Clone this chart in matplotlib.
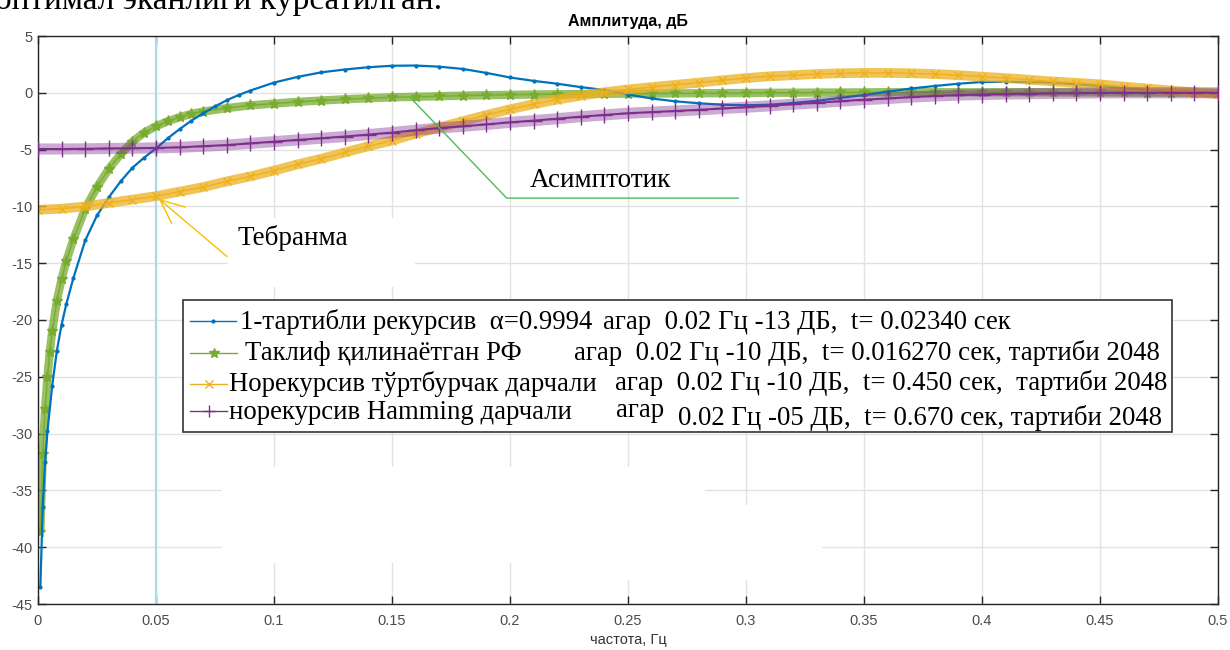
import matplotlib
matplotlib.use('Agg')
import matplotlib.pyplot as plt
from matplotlib.patches import Rectangle
from matplotlib.lines import Line2D

plt.rcParams['font.family'] = ['Liberation Sans', 'DejaVu Sans']
plt.rcParams['axes.unicode_minus'] = False

SERIF = ['Liberation Serif', 'DejaVu Serif']

# 1-тартибли рекурсив (blue)
f_rec = [0.001, 0.002, 0.003, 0.004, 0.006, 0.008, 0.010, 0.012, 0.015,
         0.020, 0.025, 0.030, 0.035, 0.040, 0.045, 0.050, 0.055, 0.060, 0.065,
         0.070, 0.075, 0.080, 0.085, 0.090,
         0.10, 0.11, 0.12, 0.13, 0.14, 0.15, 0.16, 0.17, 0.18, 0.19, 0.20,
         0.21, 0.22, 0.23, 0.24, 0.25, 0.26, 0.27, 0.28, 0.29, 0.30,
         0.31, 0.32, 0.33, 0.34, 0.35, 0.36, 0.37, 0.38, 0.39, 0.40,
         0.41, 0.42, 0.43, 0.44, 0.45, 0.46, 0.47, 0.48, 0.49, 0.50]
a_rec = [-43.5, -36.5, -32.5, -29.8, -25.8, -22.7, -20.4, -18.6, -16.3,
         -13.0, -10.8, -9.2, -7.8, -6.6, -5.7, -4.9, -4.0, -3.2, -2.45,
         -1.8, -1.2, -0.65, -0.2, 0.2,
         0.9, 1.4, 1.8, 2.05, 2.25, 2.38, 2.4, 2.3, 2.1, 1.75, 1.35,
         1.05, 0.8, 0.5, 0.25, -0.15, -0.5, -0.75, -0.92, -1.05, -1.1,
         -1.05, -0.9, -0.7, -0.45, -0.2, 0.1, 0.38, 0.6, 0.8, 0.95,
         0.97, 0.95, 0.88, 0.75, 0.6, 0.45, 0.3, 0.15, 0.05, 0.0]

# Таклиф қилинаётган РФ (green)
f_rf = [0.001, 0.002, 0.003, 0.004, 0.005, 0.006, 0.008, 0.010, 0.012, 0.015,
        0.020, 0.025, 0.030, 0.035, 0.040, 0.045, 0.050, 0.055, 0.060, 0.065,
        0.070, 0.080, 0.090,
        0.10, 0.11, 0.12, 0.13, 0.14, 0.15, 0.16, 0.17, 0.18, 0.19, 0.20,
        0.21, 0.22, 0.23, 0.24, 0.25, 0.26, 0.27, 0.28, 0.29, 0.30,
        0.31, 0.32, 0.33, 0.34, 0.35, 0.36, 0.37, 0.38, 0.39, 0.40,
        0.41, 0.42, 0.43, 0.44, 0.45, 0.46, 0.47, 0.48, 0.49, 0.50]
a_rf = [-38.7, -31.8, -27.8, -25.0, -22.8, -21.0, -18.3, -16.4, -14.8, -12.9,
        -10.2, -8.3, -6.7, -5.4, -4.3, -3.5, -2.95, -2.5, -2.15, -1.85,
        -1.65, -1.35, -1.1,
        -0.95, -0.8, -0.68, -0.57, -0.48, -0.4, -0.35, -0.3, -0.25, -0.21, -0.18,
        -0.15, -0.13, -0.11, -0.09, -0.07, -0.06, -0.05, -0.04, -0.03, -0.02,
        0.0, 0.01, 0.02, 0.03, 0.04, 0.05, 0.05, 0.05, 0.05, 0.05,
        0.05, 0.05, 0.04, 0.04, 0.03, 0.03, 0.02, 0.01, 0.01, 0.0]

# норекурсив дарчалар (orange, purple)
f_win = [0.00, 0.01, 0.02, 0.03, 0.04, 0.05, 0.06, 0.07, 0.08, 0.09,
         0.10, 0.11, 0.12, 0.13, 0.14, 0.15, 0.16, 0.17, 0.18, 0.19,
         0.20, 0.21, 0.22, 0.23, 0.24, 0.25, 0.26, 0.27, 0.28, 0.29,
         0.30, 0.31, 0.32, 0.33, 0.34, 0.35, 0.36, 0.37, 0.38, 0.39,
         0.40, 0.41, 0.42, 0.43, 0.44, 0.45, 0.46, 0.47, 0.48, 0.49, 0.50]
a_rect = [-10.3, -10.2, -10.0, -9.7, -9.4, -9.1, -8.7, -8.3, -7.8, -7.35,
          -6.85, -6.3, -5.8, -5.25, -4.7, -4.2, -3.6, -3.05, -2.5, -1.95,
          -1.45, -1.0, -0.6, -0.25, 0.05, 0.3, 0.5, 0.7, 0.9, 1.1,
          1.3, 1.45, 1.55, 1.65, 1.72, 1.75, 1.75, 1.72, 1.65, 1.55,
          1.42, 1.3, 1.15, 1.0, 0.88, 0.75, 0.55, 0.38, 0.2, 0.05, -0.1]
a_hamm = [-4.95, -4.95, -4.93, -4.9, -4.88, -4.85, -4.8, -4.7, -4.6, -4.45,
          -4.3, -4.15, -4.0, -3.85, -3.68, -3.5, -3.3, -3.1, -2.95, -2.78,
          -2.6, -2.45, -2.28, -2.1, -1.95, -1.8, -1.7, -1.6, -1.5, -1.38,
          -1.27, -1.15, -1.0, -0.88, -0.74, -0.6, -0.5, -0.38, -0.28, -0.2,
          -0.15, -0.11, -0.08, -0.05, -0.03, -0.01, 0.0, 0.0, 0.0, 0.0, 0.0]

f_mark = 0.05
xticks = [0, 0.05, 0.1, 0.15, 0.2, 0.25, 0.3, 0.35, 0.4, 0.45, 0.5]
xtick_labels = ['0', '0.05', '0.1', '0.15', '0.2', '0.25', '0.3', '0.35', '0.4', '0.45', '0.5']
yticks = [5, 0, -5, -10, -15, -20, -25, -30, -35, -40, -45]

legend_rows = [
    ('1-тартибли рекурсив  α=0.9994', 'агар  0.02 Гц -13 ДБ,  t= 0.02340 сек'),
    ('Таклиф қилинаётган РФ', 'агар  0.02 Гц -10 ДБ,  t= 0.016270 сек, тартиби 2048'),
    ('Норекурсив тўртбурчак дарчали', 'агар  0.02 Гц -10 ДБ,  t= 0.450 сек,  тартиби 2048'),
    ('норекурсив Hamming дарчали', '0.02 Гц -05 ДБ,  t= 0.670 сек, тартиби 2048'),
]

c_blue = '#0072BD'
c_green = '#77AC30'
c_orange = '#EDB120'
c_purple = '#7E2F8E'

W, H = 1230, 650


def fx(x):
    return x / W


def fy(y):
    return 1 - y / H


fig = plt.figure(figsize=(12.3, 6.5), dpi=100)
ax = fig.add_axes([fx(38), fy(604), fx(1180), 568 / H])

# green
ax.plot(f_rf, a_rf, color=c_green, lw=6, alpha=0.75, solid_capstyle='butt', zorder=2)
ax.plot(f_rf, a_rf, color=c_green, lw=1, marker='*', ms=8, mew=1, zorder=2.1)
# blue
ax.plot(f_rec, a_rec, color=c_blue, lw=1.6, marker='.', ms=4, zorder=2.2)
# orange
ax.plot(f_win, a_rect, color=c_orange, lw=7, alpha=0.75, solid_capstyle='butt', zorder=2.3)
ax.plot(f_win, a_rect, color=c_orange, lw=1, marker='x', ms=6, mew=1, zorder=2.4)
# purple
ax.plot(f_win, a_hamm, color=c_purple, lw=8, alpha=0.4, solid_capstyle='butt', zorder=2.5)
ax.plot(f_win, a_hamm, color=c_purple, lw=1.5, marker='+', ms=11, mew=1, zorder=2.6)

ax.axvline(f_mark, color='#a9dbea', lw=1.6, zorder=1.8)

ax.set_xlim(0, 0.5)
ax.set_ylim(-45, 5)
ax.set_xticks(xticks)
ax.set_xticklabels(xtick_labels)
ax.set_yticks(yticks)
ax.grid(True, color='#e2e2e2', lw=1)
ax.set_axisbelow(True)
ax.tick_params(direction='in', top=True, right=True, length=6, width=1,
               color='#262626', labelcolor='#4d4d4d', labelsize=10.5)
ax.tick_params(axis='x', pad=7)
ax.tick_params(axis='y', pad=4)
for sp in ax.spines.values():
    sp.set_color('#262626')
    sp.set_linewidth(1)

ax.set_title('Амплитуда, дБ', fontweight='bold', fontsize=11.5, pad=7)
ax.set_xlabel('частота, Гц', fontsize=10.5, color='#333333', labelpad=4)

# white patches of the document overlay
for (x0, y0, x1, y1) in [(222, 467, 705, 563), (560, 563, 705, 580),
                         (705, 505, 822, 580), (228, 218, 415, 287)]:
    ax.add_patch(Rectangle((fx(x0), fy(y1)), fx(x1 - x0), (y1 - y0) / H,
                           transform=fig.transFigure, fc='white', ec='none',
                           zorder=1, clip_on=False))

# annotations
ax.plot([0.158, 0.1986, 0.2967], [-0.47, -9.27, -9.27], color='#4cbb5a', lw=1, zorder=3)
ax.plot([0.08, 0.0517, 0.0623], [-14.4, -9.42, -10.06], color='#f5c000', lw=1, zorder=3)
ax.plot([0.0517, 0.0566], [-9.42, -11.47], color='#f5c000', lw=1, zorder=3)
fig.text(fx(530), fy(187), 'Асимптотик', family=SERIF, fontsize=19.5, va='baseline')
fig.text(fx(238), fy(245), 'Тебранма', family=SERIF, fontsize=19.5, va='baseline')

# legend
fig.add_artist(Rectangle((fx(183), fy(432)), fx(1172 - 183), (432 - 300) / H,
                         transform=fig.transFigure, fc='white', ec='#333333',
                         lw=1.2, zorder=5))
styles = [(c_blue, '.', 4), (c_green, '*', 7), (c_orange, 'x', 6), (c_purple, '+', 8)]
hy = [321, 353, 384, 411]
hx = [(190, 236), (190, 237), (190, 227), (190, 227)]
ax_ = [240, 245, 229, 229]
bx = [603, 574, 615, 678]
by = [329, 360, 390, 425]
for i, (a_txt, b_txt) in enumerate(legend_rows):
    col, mk, ms = styles[i]
    x0, x1 = hx[i]
    fig.add_artist(Line2D([fx(x0), fx(x1)], [fy(hy[i])] * 2, transform=fig.transFigure,
                          color=col, lw=1, zorder=6))
    fig.add_artist(Line2D([fx((x0 + x1) / 2)], [fy(hy[i])], transform=fig.transFigure,
                          color=col, marker=mk, ms=ms, mew=1, zorder=6))
    yA = 329 + 31 * i if i < 3 else 419
    fig.text(fx(ax_[i]), fy(yA), a_txt, family=SERIF, fontsize=19.3, va='baseline', zorder=7)
    fig.text(fx(bx[i]), fy(by[i]), b_txt, family=SERIF, fontsize=19.3, va='baseline', zorder=7)
fig.text(fx(616), fy(417), 'агар', family=SERIF, fontsize=19.3, va='baseline', zorder=7)

# cut-off line of the document above the chart
fig.text(fx(-5), fy(9), 'оптимал эканлиги кўрсатилган.', family=SERIF, fontsize=24,
         va='baseline')

fig.savefig('out.png', dpi=100)
